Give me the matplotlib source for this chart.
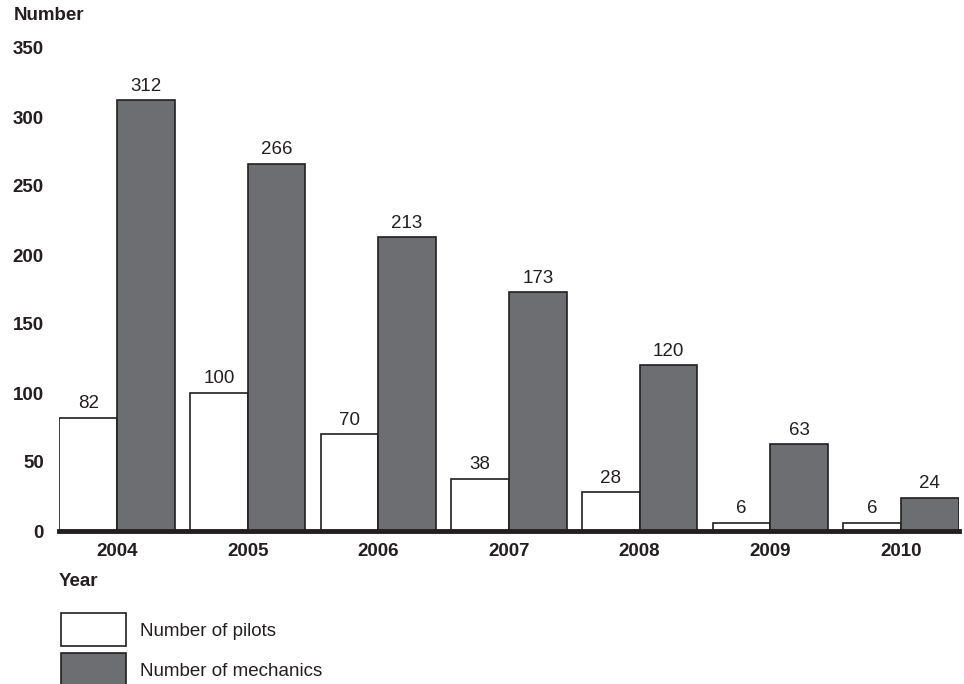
import matplotlib.pyplot as plt
from matplotlib.patches import Rectangle
import numpy as np

years = ['2004', '2005', '2006', '2007', '2008', '2009', '2010']
pilots = [82, 100, 70, 38, 28, 6, 6]
mechanics = [312, 266, 213, 173, 120, 63, 24]

plt.rcParams['font.family'] = ['Liberation Sans', 'DejaVu Sans']
dark = '#231f20'
grey = '#6d6e71'
fs = 13.5

W, H = 964, 684
fig = plt.figure(figsize=(W / 100, H / 100), dpi=100)
ax = fig.add_axes([59 / W, (H - 531) / H, 900 / W, 483 / H])

x = np.arange(len(years))
bw = 0.4406
ax.bar(x - bw / 2, pilots, bw, color='white', edgecolor=dark, linewidth=1.2)
ax.bar(x + bw / 2, mechanics, bw, color=grey, edgecolor=dark, linewidth=1.2)

for i in range(len(years)):
    ax.annotate(str(pilots[i]), (x[i] - bw / 2, pilots[i]), textcoords='offset points',
                xytext=(0, 4), ha='center', va='bottom', fontsize=fs, color=dark)
    ax.annotate(str(mechanics[i]), (x[i] + bw / 2, mechanics[i]), textcoords='offset points',
                xytext=(0, 4), ha='center', va='bottom', fontsize=fs, color=dark)

ax.set_xlim(x[0] - bw - 0.003, x[-1] + bw + 0.003)
ax.set_ylim(0, 350)
ax.set_yticks(range(0, 351, 50))
ax.set_xticks(x)
ax.set_xticklabels(years)
ax.tick_params(axis='both', length=0, labelsize=fs, colors=dark)
ax.tick_params(axis='x', pad=9)
ax.tick_params(axis='y', pad=11)
for lab in ax.get_xticklabels() + ax.get_yticklabels():
    lab.set_fontweight('bold')

for s in ['top', 'right', 'left']:
    ax.spines[s].set_visible(False)
ax.spines['bottom'].set_linewidth(3.5)
ax.spines['bottom'].set_color(dark)

fig.text(14 / W, 1 - 16 / H, 'Number', fontsize=fs, fontweight='bold', color=dark,
         ha='left', va='center')
fig.text(59 / W, 1 - 581 / H, 'Year', fontsize=fs, fontweight='bold', color=dark,
         ha='left', va='center')

# legend
fig.patches.append(Rectangle((61 / W, 1 - 646 / H), 65 / W, 33 / H, transform=fig.transFigure,
                             facecolor='white', edgecolor=dark, linewidth=1.2))
fig.patches.append(Rectangle((61 / W, 1 - 686 / H), 65 / W, 33 / H, transform=fig.transFigure,
                             facecolor=grey, edgecolor=dark, linewidth=1.2))
fig.text(140 / W, 1 - 631 / H, 'Number of pilots', fontsize=fs, color=dark, ha='left', va='center')
fig.text(140 / W, 1 - 672 / H, 'Number of mechanics', fontsize=fs, color=dark, ha='left', va='center')

fig.savefig('out.png', dpi=100)
